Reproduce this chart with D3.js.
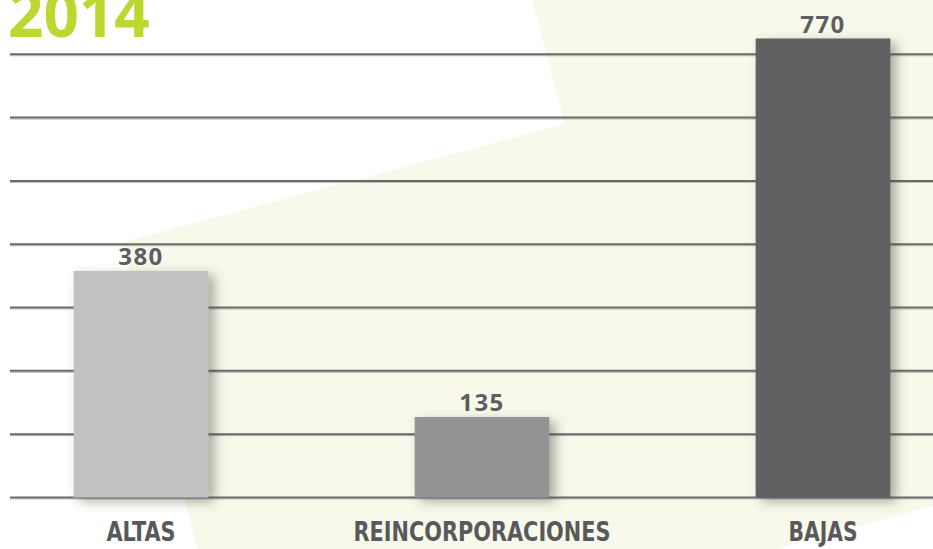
<!DOCTYPE html>
<html>
<head>
<meta charset="utf-8">
<script src="https://cdnjs.cloudflare.com/ajax/libs/d3/7.8.5/d3.min.js"></script>
<style>
	body { margin: 0; background: #fff; }
	svg { display: block; }
	.val { font-family: "Open Sans", sans-serif; font-weight: 700; font-size: 24px; fill: #5e5e61; letter-spacing: 1.5px; }
	.cat { font-family: "DejaVu Sans", sans-serif; font-stretch: condensed; font-weight: 700; font-size: 26px; fill: #59595b; }
	.title { font-family: "Open Sans", sans-serif; font-weight: 700; font-size: 62px; fill: #bdd630; }
</style>
</head>
<body>
<div id="chart"></div>
<script>

// data
const categories = ["ALTAS", "REINCORPORACIONES", "BAJAS"];
const values = [380, 135, 770];
const barColors = ["#c1c1c3", "#949496", "#636164"];
const labelWidths = [69, 257, 69];
const gridSteps = [0, 1, 2, 3, 4, 5, 6, 7];
const year = "2014";

function drawChart(){

	//sizing
	const width = 933;
	const height = 549;
	const baseline = 497.5;

	let svg = d3.select("#chart")
		.append("svg")
		.attr("width", width)
		.attr("height", height);

	//shadow for the bars
	let defs = svg.append("defs");
	defs.append("filter")
		.attr("id", "shadow")
		.attr("x", "-30%").attr("y", "-30%")
		.attr("width", "160%").attr("height", "160%")
		.append("feDropShadow")
		.attr("dx", 6)
		.attr("dy", 4)
		.attr("stdDeviation", 6)
		.attr("flood-color", "#4a4a3a")
		.attr("flood-opacity", 0.45);

	//pale background shape
	svg.append("path")
		.attr("d", "M532,0 L933,0 L933,506 L777,549 L197,549 L123,242 L565,124 Z")
		.attr("fill", "#f8f9eb");

	//scales
	let x = d3.scaleBand()
		.domain(categories)
		.range([-29.5, 993.5])
		.paddingInner(0.605)
		.paddingOuter(0.3025);

	let y = d3.scaleLinear()
		.domain([0, 770])
		.range([baseline, baseline - 459]);

	let grid = d3.scaleLinear()
		.domain([0, 7])
		.range([baseline, 54.3]);

	//gridlines
	let gl = svg.append("g").attr("class", "grid");
	gl.selectAll(".gl-light")
		.data(gridSteps)
		.enter().append("line")
		.attr("x1", 10).attr("x2", width)
		.attr("y1", d => grid(d) + 1.5)
		.attr("y2", d => grid(d) + 1.5)
		.attr("stroke", "#bdbdbd")
		.attr("stroke-width", 1);
	gl.selectAll(".gl-dark")
		.data(gridSteps)
		.enter().append("line")
		.attr("x1", 10).attr("x2", width)
		.attr("y1", d => grid(d))
		.attr("y2", d => grid(d))
		.attr("stroke", "#6a6a6a")
		.attr("stroke-width", 2);

	//bars
	svg.append("g")
		.selectAll("rect")
		.data(values)
		.enter().append("rect")
		.attr("x", (d, i) => x(categories[i]))
		.attr("y", d => y(d))
		.attr("width", x.bandwidth())
		.attr("height", d => y(0) - y(d))
		.attr("fill", (d, i) => barColors[i])
		.attr("filter", "url(#shadow)");

	//value labels
	svg.append("g")
		.selectAll("text")
		.data(values)
		.enter().append("text")
		.attr("class", "val")
		.attr("x", (d, i) => x(categories[i]) + x.bandwidth()/2)
		.attr("y", d => y(d) - 6)
		.attr("text-anchor", "middle")
		.text(d => d);

	//category labels (kept inside the frame)
	svg.append("g")
		.selectAll("text")
		.data(categories)
		.enter().append("text")
		.attr("class", "cat")
		.attr("x", (d, i) => x(d) + x.bandwidth()/2 - labelWidths[i]/2)
		.attr("y", 541)
		.attr("textLength", (d, i) => labelWidths[i])
		.attr("lengthAdjust", "spacingAndGlyphs")
		.text(d => d);

	//title
	svg.append("text")
		.attr("class", "title")
		.attr("x", 8)
		.attr("y", 37)
		.text(year);
}

drawChart();
</script>
</body>
</html>
